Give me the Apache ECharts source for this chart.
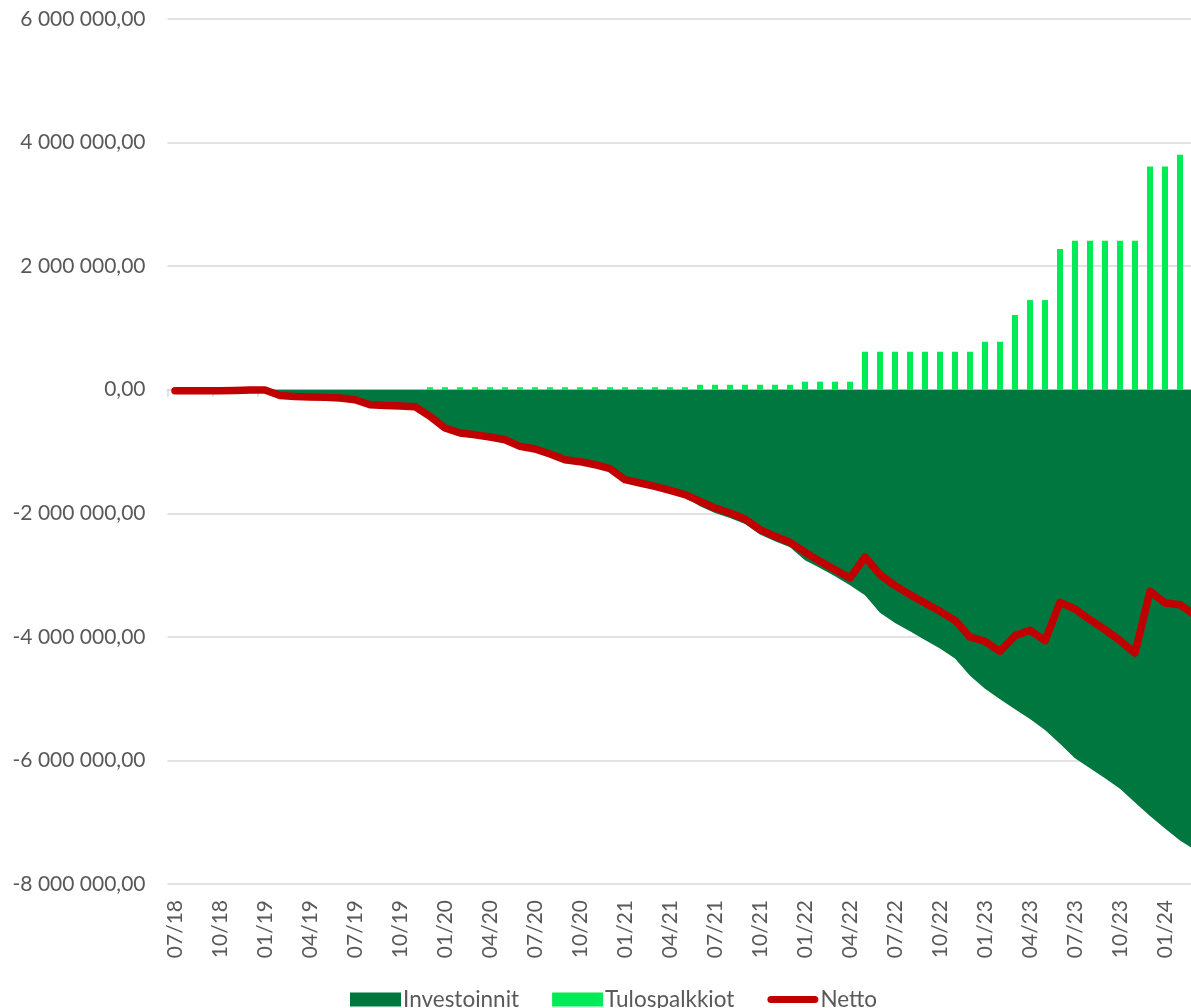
<!DOCTYPE html>
<html>
<head>
<meta charset="utf-8">
<script src="https://cdn.jsdelivr.net/npm/echarts/dist/echarts.min.js"></script>
<style>
  html, body { margin: 0; padding: 0; background: #fff; overflow: hidden; }
  /* kuva on rajattu oikealta, joten piirtoalue jatkuu ikkunan yli */
  #kaavio { width: 1215px; height: 1008px; }
</style>
</head>
<body>
<div id="kaavio"></div>
<script>
// kuukaudet 07/18 - 03/24
var kuukaudet = [
    '07/18', '08/18', '09/18', '10/18', '11/18', '12/18',
    '01/19', '02/19', '03/19', '04/19', '05/19', '06/19', '07/19', '08/19', '09/19', '10/19', '11/19', '12/19',
    '01/20', '02/20', '03/20', '04/20', '05/20', '06/20', '07/20', '08/20', '09/20', '10/20', '11/20', '12/20',
    '01/21', '02/21', '03/21', '04/21', '05/21', '06/21', '07/21', '08/21', '09/21', '10/21', '11/21', '12/21',
    '01/22', '02/22', '03/22', '04/22', '05/22', '06/22', '07/22', '08/22', '09/22', '10/22', '11/22', '12/22',
    '01/23', '02/23', '03/23', '04/23', '05/23', '06/23', '07/23', '08/23', '09/23', '10/23', '11/23', '12/23',
    '01/24', '02/24', '03/24'
];

var investoinnit = [
    -16000, -16000, -16000, -16000, -12000, -3000,
    -3000, -92000, -108000, -118000, -124000, -135000, -162000, -243000, -254000, -264000, -275000, -471000,
    -660000, -741000, -768000, -806000, -849000, -957000, -1000000, -1081000, -1173000, -1205000, -1254000, -1318000,
    -1496000, -1550000, -1604000, -1669000, -1739000, -1887000, -1995000, -2076000, -2173000, -2345000, -2453000, -2550000,
    -2760000, -2885000, -3020000, -3165000, -3328000, -3610000, -3775000, -3910000, -4050000, -4190000, -4352000, -4628000,
    -4840000, -5008000, -5170000, -5330000, -5507000, -5730000, -5965000, -6128000, -6290000, -6460000, -6680000, -6900000,
    -7100000, -7295000, -7450000
];

var tulospalkkiot = [
    0, 0, 0, 0, 0, 0,
    0, 0, 0, 0, 0, 0, 0, 0, 0, 0, 0, 40000,
    40000, 40000, 40000, 40000, 40000, 40000, 40000, 40000, 40000, 40000, 40000, 40000,
    40000, 40000, 40000, 40000, 40000, 80000, 80000, 80000, 80000, 80000, 80000, 80000,
    130000, 130000, 130000, 130000, 615000, 615000, 615000, 615000, 615000, 615000, 615000, 615000,
    777000, 777000, 1209000, 1451000, 1451000, 2277000, 2411000, 2411000, 2411000, 2411000, 2411000, 3613000,
    3613000, 3803000, 3803000
];

var netto = [
    -16000, -16000, -16000, -16000, -12000, -3000,
    -3000, -92000, -108000, -118000, -124000, -135000, -162000, -243000, -254000, -264000, -275000, -431000,
    -620000, -701000, -728000, -766000, -809000, -917000, -960000, -1041000, -1133000, -1165000, -1214000, -1278000,
    -1456000, -1510000, -1564000, -1629000, -1699000, -1807000, -1915000, -1996000, -2093000, -2265000, -2373000, -2470000,
    -2630000, -2778000, -2913000, -3047000, -2707000, -2993000, -3171000, -3317000, -3452000, -3587000, -3733000, -4002000,
    -4073000, -4235000, -3980000, -3895000, -4061000, -3441000, -3549000, -3722000, -3883000, -4061000, -4261000, -3263000,
    -3452000, -3479000, -3650000
];

var fontti = 'Lato, "Open Sans", sans-serif';
var tekstiVari = '#595959';
var viivaVari = '#d9d9d9';

// 6 000 000,00 -muotoilu
function muotoile(v) {
    var s = Math.abs(v).toFixed(0).replace(/\B(?=(\d{3})+(?!\d))/g, ' ');
    return (v < 0 ? '-' : '') + s + ',00';
}

var myChart = echarts.init(document.getElementById('kaavio'), null, { renderer: 'canvas' });

myChart.setOption({
    animation: false,
    textStyle: { fontFamily: fontti },
    grid: { left: 167.5, top: 19, width: 1035, height: 865 },
    legend: {
        left: 345,
        top: 983,
        itemWidth: 51,
        itemHeight: 14,
        itemGap: 33,
        textStyle: { color: tekstiVari, fontSize: 22.5, fontFamily: fontti, padding: [0, 0, 0, -3] },
        data: [
            { name: 'Investoinnit', icon: 'rect' },
            { name: 'Tulospalkkiot', icon: 'rect' },
            // pyöreäpäinen viiva
            { name: 'Netto', icon: 'path://M3.5,0L46.5,0A3.5,3.5,0,0,1,46.5,7L3.5,7A3.5,3.5,0,0,1,3.5,0Z' }
        ]
    },
    xAxis: [
        {
            type: 'category',
            data: kuukaudet,
            boundaryGap: true,
            axisLine: { show: false, onZero: false },
            axisTick: { show: false },
            axisLabel: {
                interval: 2,
                rotate: 90,
                margin: 16,
                color: tekstiVari,
                fontSize: 21,
                fontFamily: fontti
            }
        },
        {
            // nolla-akseli ja jakomerkit
            type: 'category',
            data: kuukaudet,
            boundaryGap: true,
            position: 'top',
            axisLine: { show: true, onZero: true, lineStyle: { color: viivaVari, width: 1.5 } },
            axisTick: { show: true, interval: 2, inside: true, length: 7, lineStyle: { color: viivaVari, width: 1.5 } },
            axisLabel: { show: false }
        }
    ],
    yAxis: {
        type: 'value',
        min: -8000000,
        max: 6000000,
        interval: 2000000,
        axisLine: { show: false },
        axisTick: { show: false },
        splitLine: { lineStyle: { color: viivaVari, width: 1.5 } },
        axisLabel: {
            margin: 22,
            color: tekstiVari,
            fontSize: 21,
            fontFamily: fontti,
            formatter: muotoile
        }
    },
    series: [
        {
            name: 'Investoinnit',
            type: 'line',
            data: investoinnit,
            color: '#00773f',
            symbol: 'none',
            lineStyle: { width: 0 },
            areaStyle: { color: '#00773f', opacity: 1 },
            z: 1
        },
        {
            name: 'Tulospalkkiot',
            type: 'bar',
            data: tulospalkkiot,
            color: '#00eb55',
            barWidth: 6,
            z: 2
        },
        {
            name: 'Netto',
            type: 'line',
            data: netto,
            color: '#c00000',
            symbol: 'none',
            lineStyle: { width: 7.5, cap: 'round', join: 'round' },
            z: 3
        }
    ]
});
</script>
</body>
</html>
